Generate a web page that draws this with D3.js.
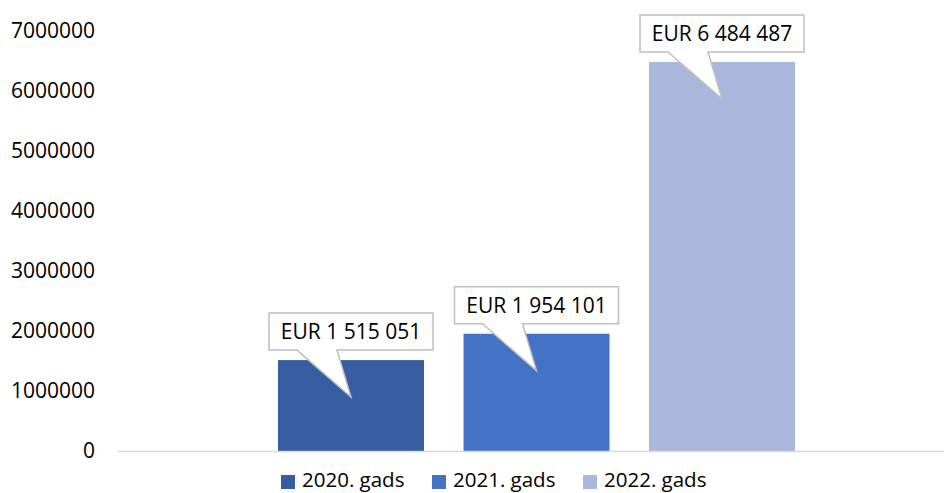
<!DOCTYPE html>
<html>
<head>
<meta charset="utf-8">
<script src="https://cdn.jsdelivr.net/npm/d3@7"></script>
<style>
  html, body { margin: 0; padding: 0; background: #fff; }
  svg { display: block; font-family: "Open Sans", sans-serif; }
</style>
</head>
<body>
<div id="chart"></div>
<script>
// chart data
var series = ["2020. gads", "2021. gads", "2022. gads"];
var values = [1515051, 1954101, 6484487];
var colors = ["#365EA0", "#4472C4", "#A8B7DB"];
var yTicks = [0, 1000000, 2000000, 3000000, 4000000, 5000000, 6000000, 7000000];

var width = 944, height = 493;
var fontSize = 21;

var svg = d3.select("#chart")
    .append("svg")
    .attr("width", width)
    .attr("height", height);

var yScale = d3.scaleLinear()
    .domain([0, 7000000])
    .range([451, 31]);

var xScale = d3.scaleBand()
    .domain(series)
    .range([278, 795])
    .paddingInner(0.213)
    .paddingOuter(0);

// y axis, labels only
var yAxis = svg.append("g")
    .attr("class", "y axis")
    .attr("transform", "translate(118,0)")
    .call(d3.axisLeft(yScale).tickValues(yTicks).tickSize(0).tickPadding(23).tickFormat(d3.format("d")));

yAxis.select(".domain").remove();
yAxis.selectAll("text")
    .style("font-family", "'Open Sans', sans-serif")
    .style("font-size", fontSize + "px")
    .attr("fill", "#000");

// bars
svg.selectAll("rect.bar")
    .data(values)
    .enter()
    .append("rect")
    .attr("class", "bar")
    .attr("x", function(d, i) { return xScale(series[i]); })
    .attr("y", function(d) { return yScale(d); })
    .attr("width", xScale.bandwidth())
    .attr("height", function(d) { return yScale(0) - yScale(d); })
    .attr("fill", function(d, i) { return colors[i]; });

// baseline
svg.append("line")
    .attr("x1", 118)
    .attr("x2", width)
    .attr("y1", yScale(0) + 0.5)
    .attr("y2", yScale(0) + 0.5)
    .attr("stroke", "#d9d9d9")
    .attr("stroke-width", 1.5);

// callouts
var fmt = function(v) { return "EUR " + d3.format(",")(v).replace(/,/g, " "); };
var boxW = 164, boxH = 37;

var callouts = svg.selectAll("g.callout")
    .data(values)
    .enter()
    .append("g")
    .attr("class", "callout");

callouts.append("path")
    .attr("d", function(d, i) {
        var cx = xScale(series[i]) + xScale.bandwidth() / 2;
        var top = yScale(d);
        var b = top - 10, t = b - boxH;
        var l = cx - boxW / 2, r = cx + boxW / 2;
        return "M" + l + "," + t +
            "L" + r + "," + t +
            "L" + r + "," + b +
            "L" + (cx - 14) + "," + b +
            "L" + cx + "," + (top + 37) +
            "L" + (cx - 54) + "," + b +
            "L" + l + "," + b + "Z";
    })
    .attr("fill", "#fff")
    .attr("stroke", "#bfbfbf")
    .attr("stroke-width", 1.5)
    .attr("stroke-linejoin", "miter");

callouts.append("text")
    .attr("x", function(d, i) { return xScale(series[i]) + xScale.bandwidth() / 2; })
    .attr("y", function(d) { return yScale(d) - 10 - boxH / 2; })
    .attr("dy", "0.35em")
    .attr("text-anchor", "middle")
    .style("font-size", fontSize + "px")
    .attr("fill", "#000")
    .text(fmt);

// legend
var legend = svg.append("g")
    .attr("class", "legend")
    .attr("transform", "translate(281,475)");

var items = legend.selectAll("g")
    .data(series)
    .enter()
    .append("g")
    .attr("transform", function(d, i) { return "translate(" + (i * 151) + ",0)"; });

items.append("rect")
    .attr("width", 14)
    .attr("height", 14)
    .attr("fill", function(d, i) { return colors[i]; });

items.append("text")
    .attr("x", 21)
    .attr("y", 12)
    .style("font-size", "20.5px")
    .attr("fill", "#000")
    .text(function(d) { return d; });
</script>
</body>
</html>
